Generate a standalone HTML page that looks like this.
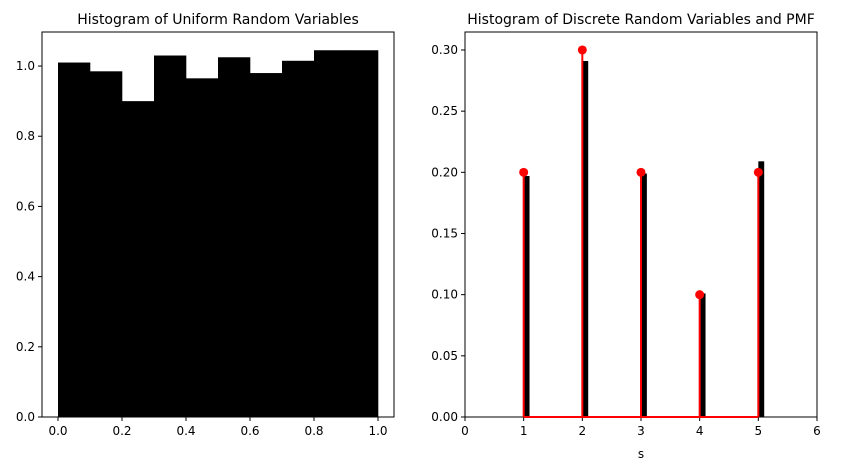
<!DOCTYPE html>
<html><head><meta charset="utf-8"><style>
body{margin:0;background:#fff;font-family:"Liberation Sans","DejaVu Sans",sans-serif}
svg text{font-family:"DejaVu Sans","Liberation Sans",sans-serif}
</style></head><body>
<svg id="c" width="856" height="470" xmlns="http://www.w3.org/2000/svg"></svg>
<script>
const uniformEdges=[0,0.1,0.2,0.3,0.4,0.5,0.6,0.7,0.8,0.9,1.0];
const uniformDensity=[1.01,0.985,0.90,1.03,0.965,1.025,0.98,1.015,1.045,1.045];
const leftXTicks=[0,0.2,0.4,0.6,0.8,1.0];
const leftYTicks=[0,0.2,0.4,0.6,0.8,1.0];
const discreteValues=[1,2,3,4,5];
const discreteFreq=[0.197,0.291,0.199,0.101,0.209];
const pmfValues=[0.2,0.3,0.2,0.1,0.2];
const rightXTicks=[0,1,2,3,4,5,6];
const rightYTicks=[0,0.05,0.10,0.15,0.20,0.25,0.30];

const NS="http://www.w3.org/2000/svg";
const svg=document.getElementById('c');
function mk(t,a,p){const e=document.createElementNS(NS,t);for(const k in a)e.setAttribute(k,a[k]);(p||svg).appendChild(e);return e;}

const L={x0:42,x1:394,y0:417,y1:32,xmin:-0.05,xmax:1.05,ymin:0,ymax:1.097};
const lx=v=>L.x0+(v-L.xmin)/(L.xmax-L.xmin)*(L.x1-L.x0);
const ly=v=>L.y0-(v-L.ymin)/(L.ymax-L.ymin)*(L.y0-L.y1);
const R={x0:465,x1:817,y0:417,y1:32,xmin:0,xmax:6,ymin:0,ymax:0.3147};
const rx=v=>R.x0+(v-R.xmin)/(R.xmax-R.xmin)*(R.x1-R.x0);
const ry=v=>R.y0-(v-R.ymin)/(R.ymax-R.ymin)*(R.y0-R.y1);

function axes(A,fx,fy,xt,yt,xf,yf,name){
  const g=mk('g',{});
  
  
  mk('rect',{x:A.x0,y:A.y1,width:A.x1-A.x0,height:A.y0-A.y1,fill:'none',stroke:'#000','stroke-width':1},g);
  xt.forEach(t=>{const x=fx(t);mk('line',{x1:x,x2:x,y1:A.y0,y2:A.y0+4,stroke:'#000'},g);
    const tx=mk('text',{x:x,y:A.y0+18,'text-anchor':'middle','font-size':12},g);tx.textContent=xf(t);
    });
  yt.forEach(t=>{const y=fy(t);mk('line',{x1:A.x0-4,x2:A.x0,y1:y,y2:y,stroke:'#000'},g);
    const tx=mk('text',{x:A.x0-7,y:y+4,'text-anchor':'end','font-size':12},g);tx.textContent=yf(t);
    });
}
axes(L,lx,ly,leftXTicks,leftYTicks,t=>t.toFixed(1),t=>t.toFixed(1),'left-axes');
axes(R,rx,ry,rightXTicks,rightYTicks,t=>String(t),t=>t.toFixed(2),'right-axes');

const gL=mk('g',{});


uniformDensity.forEach((d,i)=>{
  const r=mk('rect',{x:lx(uniformEdges[i]),y:ly(d),width:lx(uniformEdges[i+1])-lx(uniformEdges[i])+0.3,height:ly(0)-ly(d),fill:'#000'},gL);
  
  
});
const gR=mk('g',{});


discreteValues.forEach((v,i)=>{
  const r=mk('rect',{x:rx(v),y:ry(discreteFreq[i]),width:rx(v+0.1)-rx(v),height:ry(0)-ry(discreteFreq[i]),fill:'#000'},gR);
  
  
});
const base=mk('line',{x1:rx(discreteValues[0]),x2:rx(discreteValues[discreteValues.length-1]),y1:ry(0),y2:ry(0),stroke:'#f00','stroke-width':2});


discreteValues.forEach((v,i)=>{
  const s=mk('line',{x1:rx(v),x2:rx(v),y1:ry(0),y2:ry(pmfValues[i]),stroke:'#f00','stroke-width':2});
  
  
  const c=mk('circle',{cx:rx(v),cy:ry(pmfValues[i]),r:4.5,fill:'#f00'});
  
  
});

let t=mk('text',{x:(L.x0+L.x1)/2,y:24,'text-anchor':'middle','font-size':14});t.textContent='Histogram of Uniform Random Variables';

t=mk('text',{x:(R.x0+R.x1)/2,y:24,'text-anchor':'middle','font-size':14});t.textContent='Histogram of Discrete Random Variables and PMF';

t=mk('text',{x:(R.x0+R.x1)/2,y:458,'text-anchor':'middle','font-size':12});t.textContent='s';

</script>
</body></html>
